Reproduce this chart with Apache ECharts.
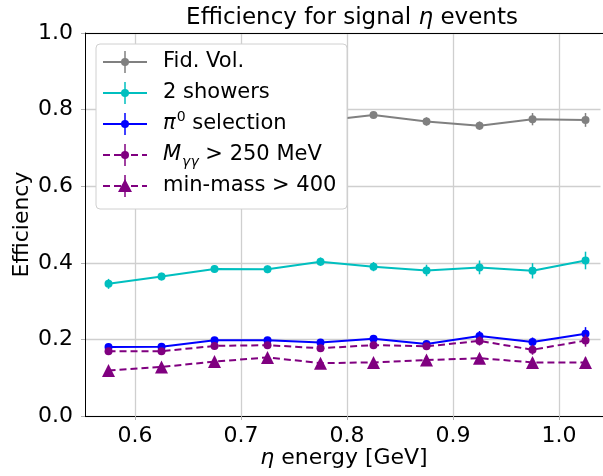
<!DOCTYPE html>
<html><head><meta charset="utf-8">
<script src="https://cdn.jsdelivr.net/npm/echarts@6/dist/echarts.min.js"></script>
<style>html,body{margin:0;padding:0;background:#fff;overflow:hidden}#c{width:603px;height:476px}</style>
</head><body><div id="c"></div><script>
const energies = [0.575, 0.625, 0.675, 0.725, 0.775, 0.825, 0.875, 0.925, 0.975, 1.025];
const xTicks = [0.6, 0.7, 0.8, 0.9, 1.0];
const fidVol = [0.745, 0.760, 0.770, 0.772, 0.770, 0.786, 0.769, 0.758, 0.775, 0.773];
const fidVolErr = [0.010, 0.010, 0.010, 0.010, 0.010, 0.008, 0.011, 0.011, 0.016, 0.018];
const twoShowers = [0.345, 0.364, 0.384, 0.383, 0.403, 0.390, 0.380, 0.388, 0.379, 0.406];
const twoShowersErr = [0.013, 0.010, 0.010, 0.010, 0.011, 0.012, 0.015, 0.018, 0.020, 0.023];
const pi0Sel = [0.180, 0.181, 0.198, 0.198, 0.192, 0.202, 0.188, 0.209, 0.193, 0.215];
const pi0SelErr = [0.008, 0.008, 0.008, 0.008, 0.008, 0.009, 0.009, 0.013, 0.012, 0.017];
const mggCut = [0.169, 0.169, 0.183, 0.185, 0.177, 0.185, 0.182, 0.196, 0.173, 0.197];
const mggCutErr = [0.008, 0.008, 0.008, 0.008, 0.008, 0.009, 0.009, 0.012, 0.013, 0.016];
const minMass = [0.119, 0.128, 0.142, 0.153, 0.138, 0.140, 0.146, 0.151, 0.140, 0.140];
const minMassErr = [0.007, 0.007, 0.007, 0.008, 0.008, 0.008, 0.009, 0.010, 0.011, 0.013];

const FONT = 'DejaVu Sans';
const GRAY = '#808080', CYAN = '#00bfbf', BLUE = '#0000ff', PURPLE = '#800080';

function pts(vals, errs) { return energies.map((x, i) => [x, vals[i], errs[i]]); }

function errSeries(vals, errs, color, z) {
  return {
    type: 'custom', data: pts(vals, errs), z: z, silent: true,
    renderItem: function (params, api) {
      const x = api.value(0), y = api.value(1), e = api.value(2);
      const a = api.coord([x, y + e]), b = api.coord([x, y - e]);
      return { type: 'line', shape: { x1: a[0], y1: a[1], x2: b[0], y2: b[1] },
        style: { stroke: color, lineWidth: 1.5 } };
    }
  };
}
function lineSeries(name, vals, errs, color, dashed, symbol, size, z) {
  return {
    name: name, type: 'line', data: pts(vals, errs), z: z,
    symbol: symbol, symbolSize: size, showAllSymbol: true,
    lineStyle: { color: color, width: 2, type: dashed ? [7, 4] : 'solid' },
    itemStyle: { color: color }, emphasis: { disabled: true }, animation: false
  };
}

const series = [
  errSeries(fidVol, fidVolErr, GRAY, 2),
  lineSeries('Fid. Vol.', fidVol, fidVolErr, GRAY, false, 'circle', 8, 3),
  errSeries(twoShowers, twoShowersErr, CYAN, 4),
  lineSeries('2 showers', twoShowers, twoShowersErr, CYAN, false, 'circle', 8, 5),
  errSeries(pi0Sel, pi0SelErr, BLUE, 6),
  lineSeries('π0 selection', pi0Sel, pi0SelErr, BLUE, false, 'circle', 8, 7),
  errSeries(mggCut, mggCutErr, PURPLE, 8),
  lineSeries('Mγγ > 250 MeV', mggCut, mggCutErr, PURPLE, true, 'circle', 8, 9),
  errSeries(minMass, minMassErr, PURPLE, 10),
  lineSeries('min-mass > 400', minMass, minMassErr, PURPLE, true, 'triangle', 13, 11)
];

// Legend drawn as graphic elements (matplotlib-style box)
const legendItems = [
  { color: GRAY, dashed: false, tri: false, text: 'Fid. Vol.' },
  { color: CYAN, dashed: false, tri: false, text: '2 showers' },
  { color: BLUE, dashed: false, tri: false, text: '{it|π}{sup|0} selection' },
  { color: PURPLE, dashed: true, tri: false, text: '{it|M}{sub|γγ} > 250 MeV' },
  { color: PURPLE, dashed: true, tri: true, text: 'min-mass > 400' }
];
const LFS = 21;
const lg = [{
  type: 'rect', shape: { x: 96, y: 44, width: 251, height: 165, r: 4 },
  style: { fill: '#fff', stroke: '#d0d0d0', lineWidth: 1 }, z: 100
}, {
  // the reference figure is cropped before its right spine: mask the grid's right edge
  type: 'rect', shape: { x: 600.5, y: 34, width: 3, height: 381.5 },
  style: { fill: '#fff' }, z: 99, silent: true
}];
legendItems.forEach((it, i) => {
  const cy = 62 + i * 31;
  if (it.dashed) {
    [[103, 110], [114, 121], [131, 138], [142, 147]].forEach(s => lg.push({
      type: 'line', shape: { x1: s[0], y1: cy, x2: s[1], y2: cy },
      style: { stroke: it.color, lineWidth: 2 }, z: 101 }));
  } else {
    lg.push({ type: 'line', shape: { x1: 103, y1: cy, x2: 147, y2: cy },
      style: { stroke: it.color, lineWidth: 2 }, z: 101 });
  }
  lg.push({ type: 'line', shape: { x1: 125, y1: cy - 11, x2: 125, y2: cy + 11 },
    style: { stroke: it.color, lineWidth: 1.5 }, z: 101 });
  if (it.tri) {
    lg.push({ type: 'polygon', shape: { points: [[125, cy - 7], [132, cy + 6], [118, cy + 6]] },
      style: { fill: it.color }, z: 102 });
  } else {
    lg.push({ type: 'circle', shape: { cx: 125, cy: cy, r: 4 }, style: { fill: it.color }, z: 102 });
  }
  lg.push({ type: 'text', x: 163, y: cy, z: 102,
    style: { text: it.text, font: LFS + 'px "' + FONT + '"', fill: '#000', verticalAlign: 'middle',
      rich: {
        it: { fontFamily: FONT, fontSize: LFS, fontStyle: 'italic', lineHeight: 28 },
        sup: { fontFamily: FONT, fontSize: 14, verticalAlign: 'top', lineHeight: 28, padding: [0, 0, 8, 1] },
        sub: { fontFamily: FONT, fontSize: 14, fontStyle: 'italic', verticalAlign: 'bottom', lineHeight: 28, padding: [8, 0, 0, 1] }
      } } });
});

const chart = echarts.init(document.getElementById('c'), null, { renderer: 'canvas' });
chart.setOption({
  animation: false,
  backgroundColor: '#fff',
  title: {
    text: 'Efficiency for signal {it|η} events', left: 347, top: 2, textAlign: 'center',
    textStyle: { fontFamily: FONT, fontSize: 23, fontWeight: 'normal', color: '#000',
      rich: { it: { fontFamily: FONT, fontSize: 23, fontStyle: 'italic' } } }
  },
  grid: { left: 85, top: 33, right: 0, bottom: 60, outerBoundsMode: 'none', containLabel: false,
    show: false },
  xAxis: [{
    type: 'value', min: 0.5528, max: 1.0415,
    name: '{it|η} energy [GeV]', nameLocation: 'middle', nameGap: 31, nameMoveOverlap: false,
    nameTextStyle: { fontFamily: FONT, fontSize: 22, color: '#000',
      rich: { it: { fontFamily: FONT, fontSize: 22, fontStyle: 'italic' } } },
    axisLine: { show: true, lineStyle: { color: '#000', width: 1 } },
    axisTick: { show: true, customValues: xTicks, length: 4, lineStyle: { color: '#b0b0b0' } },
    axisLabel: { customValues: xTicks, fontFamily: FONT, fontSize: 22, color: '#000', margin: 9,
      formatter: v => v.toFixed(1) },
    splitLine: { show: true, customValues: xTicks,
      lineStyle: { color: '#cfcfcf', width: 1.3 } }
  }, {
    type: 'value', position: 'top', min: 0.5528, max: 1.0415,
    axisLine: { show: true, onZero: false, lineStyle: { color: '#000', width: 1 } },
    axisTick: { show: false }, axisLabel: { show: false }, splitLine: { show: false }
  }],
  yAxis: {
    type: 'value', min: 0, max: 1, interval: 0.2,
    name: 'Efficiency', nameLocation: 'middle', nameGap: 52, nameMoveOverlap: false,
    nameTextStyle: { fontFamily: FONT, fontSize: 22, color: '#000' },
    axisLine: { show: true, lineStyle: { color: '#000', width: 1 } },
    axisTick: { show: true, length: 4, lineStyle: { color: '#b0b0b0' } },
    axisLabel: { fontFamily: FONT, fontSize: 22, color: '#000', margin: 12, formatter: v => v.toFixed(1) },
    splitLine: { show: true, lineStyle: { color: '#cfcfcf', width: 1.3 } }
  },
  series: series,
  graphic: lg
});
</script></body></html>
